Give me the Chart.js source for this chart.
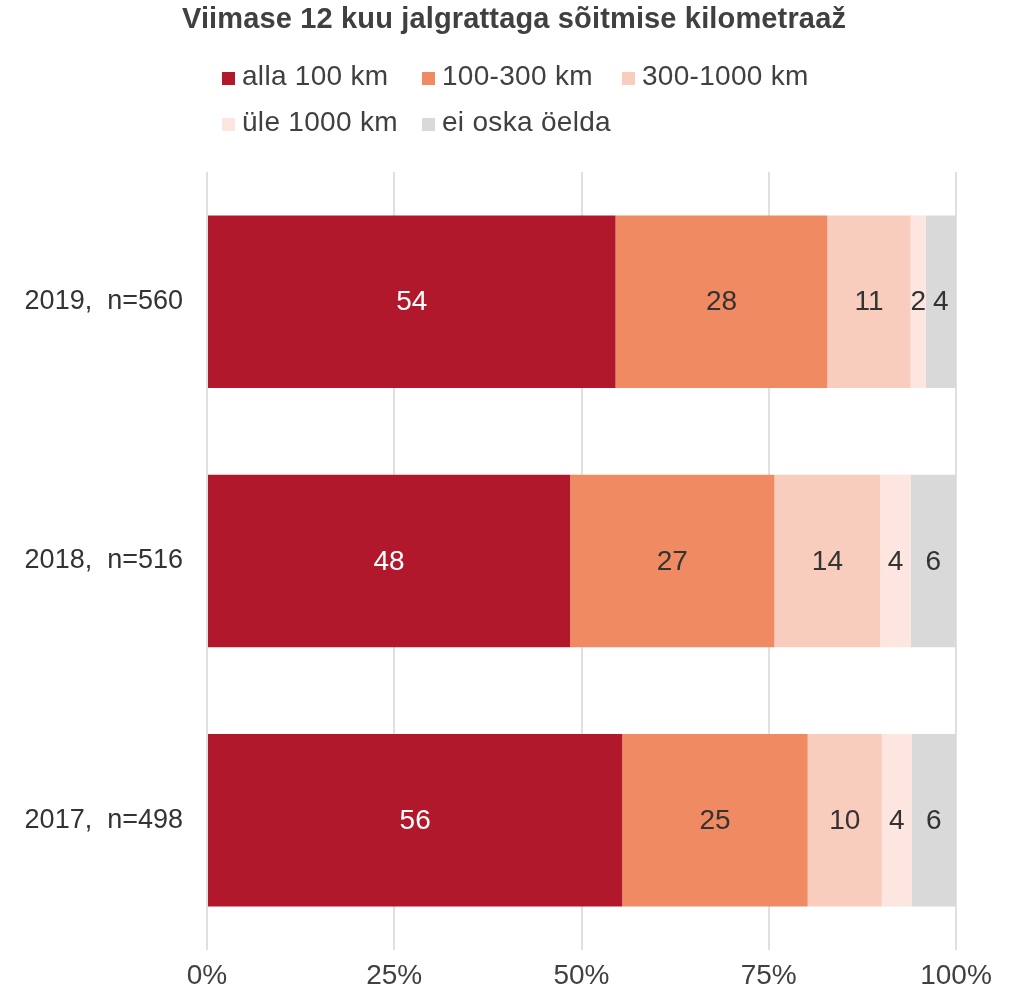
<!DOCTYPE html>
<html>
<head>
<meta charset="utf-8">
<script src="https://cdn.jsdelivr.net/npm/chart.js@4"></script>
<style>
  body { margin: 0; background: #fff; }
</style>
</head>
<body>
<canvas id="output" width="1018" height="991"></canvas>
<script>
const title = "Viimase 12 kuu jalgrattaga sõitmise kilometraaž";
const categories = ["2019,  n=560", "2018,  n=516", "2017,  n=498"];
const seriesNames = ["alla 100 km", "100-300 km", "300-1000 km", "üle 1000 km", "ei oska öelda"];
const seriesColors = ["#b2182b", "#ef8a62", "#f9cdbd", "#fce6df", "#d9d9d9"];
const alla100 = [54, 48, 56];
const km100to300 = [28, 27, 25];
const km300to1000 = [11, 14, 10];
const ule1000 = [2, 4, 4];
const eiOska = [4, 6, 6];
const xTicks = [0, 25, 50, 75, 100];

const font = "'Liberation Sans', Arial, sans-serif";
const series = [alla100, km100to300, km300to1000, ule1000, eiOska];

// every row is drawn as a share of its own total (100% stacked bar)
const totals = categories.map((c, j) => series.reduce((s, arr) => s + arr[j], 0));

const datasets = series.map((values, i) => ({
    label: seriesNames[i],
    data: values.map((v, j) => v / totals[j] * 100),
    shown: values,
    backgroundColor: seriesColors[i],
    borderWidth: 0,
    categoryPercentage: 1,
    barPercentage: 0.665
}));

const barLabels = {
    id: "barLabels",
    afterDatasetsDraw(chart) {
        const ctx = chart.ctx;
        ctx.save();
        ctx.font = "28px " + font;
        ctx.textAlign = "center";
        ctx.textBaseline = "middle";
        chart.data.datasets.forEach((ds, i) => {
            ctx.fillStyle = i === 0 ? "#ffffff" : "#333333";
            chart.getDatasetMeta(i).data.forEach((bar, j) => {
                ctx.fillText(ds.shown[j], (bar.x + bar.base) / 2, bar.y + 1);
            });
        });
        ctx.restore();
    }
};

// title centred on the page, legend laid out in fixed columns (three per row)
const header = {
    id: "header",
    afterDraw(chart) {
        const ctx = chart.ctx;
        ctx.save();
        ctx.font = "bold 29px " + font;
        ctx.letterSpacing = "0.15px";
        ctx.fillStyle = "#404040";
        ctx.textAlign = "center";
        ctx.textBaseline = "middle";
        ctx.fillText(title, 514, 20);

        const left = 222, colWidth = 200, rowHeight = 46, top = 72, box = 13;
        ctx.font = "28px " + font;
        ctx.letterSpacing = "0.3px";
        ctx.textAlign = "left";
        chart.data.datasets.forEach((ds, i) => {
            const x = left + (i % 3) * colWidth;
            const y = top + Math.floor(i / 3) * rowHeight;
            ctx.fillStyle = ds.backgroundColor;
            ctx.fillRect(x, y, box, box);
            ctx.fillStyle = "#404040";
            ctx.fillText(ds.label, x + 20, y + 5);
        });
        ctx.restore();
    }
};

const chart = new Chart(document.getElementById("output"), {
    type: "bar",
    data: { labels: categories, datasets: datasets },
    plugins: [barLabels, header],
    options: {
        indexAxis: "y",
        responsive: false,
        animation: false,
        layout: { padding: { left: 0, right: 62, top: 172, bottom: 0 } },
        plugins: {
            legend: { display: false },
            tooltip: { enabled: false },
            title: { display: false }
        },
        scales: {
            x: {
                stacked: true,
                min: 0,
                max: 100,
                afterBuildTicks(scale) {
                    scale.ticks = xTicks.map(v => ({ value: v }));
                },
                afterFit(scale) { scale.height = 41; },
                ticks: {
                    callback: v => v + "%",
                    color: "#404040",
                    font: { family: font, size: 28 },
                    padding: 9,
                    maxRotation: 0
                },
                grid: { color: "#e0e0e0", lineWidth: 2, drawTicks: false },
                border: { display: false }
            },
            y: {
                stacked: true,
                afterFit(scale) { scale.width = 207; },
                ticks: {
                    color: "#333333",
                    font: { family: font, size: 27 },
                    padding: 24
                },
                grid: { display: false, drawTicks: false },
                border: { display: false }
            }
        }
    }
});
</script>
</body>
</html>
